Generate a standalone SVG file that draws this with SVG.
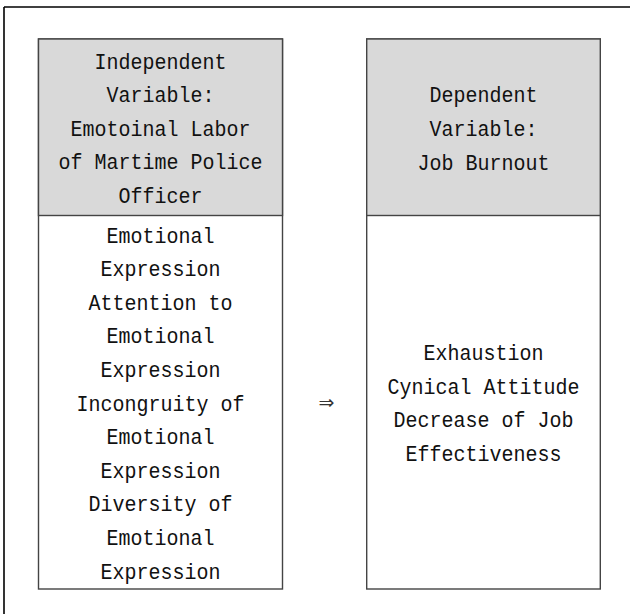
<svg xmlns="http://www.w3.org/2000/svg" width="630" height="614" viewBox="0 0 630 614">
<style>
.frame{stroke:#000;stroke-width:1.6;fill:none}
.box{fill:#fff;stroke:#444;stroke-width:1.4}
.head{fill:#d9d9d9;stroke:#444;stroke-width:1.4}
.t{font-family:"Liberation Mono","DejaVu Sans Mono",monospace;font-size:20px;fill:#111;text-anchor:middle}
.arr{font-family:"DejaVu Sans",sans-serif;font-size:19px;fill:#333;text-anchor:middle}
</style>
<rect width="630" height="614" fill="#fff"/>
<g id="frame">
<line class="frame" x1="4" y1="7" x2="630" y2="7"/>
<line class="frame" x1="4" y1="7" x2="4" y2="614"/>
</g>
<g id="independent">
<rect class="box" x="38.5" y="39" width="244" height="550"/>
<rect class="head" x="38.5" y="39" width="244" height="176.5"/>
<text class="t" transform="matrix(1,0,0,1.1,160.5,68.5)">Independent</text>
<text class="t" transform="matrix(1,0,0,1.1,160.5,102)">Variable:</text>
<text class="t" transform="matrix(1,0,0,1.1,160.5,135.5)">Emotoinal Labor</text>
<text class="t" transform="matrix(1,0,0,1.1,160.5,169)">of Martime Police</text>
<text class="t" transform="matrix(1,0,0,1.1,160.5,202.5)">Officer</text>
<text class="t" transform="matrix(1,0,0,1.1,160.5,242.5)">Emotional</text>
<text class="t" transform="matrix(1,0,0,1.1,160.5,276.1)">Expression</text>
<text class="t" transform="matrix(1,0,0,1.1,160.5,309.7)">Attention to</text>
<text class="t" transform="matrix(1,0,0,1.1,160.5,343.3)">Emotional</text>
<text class="t" transform="matrix(1,0,0,1.1,160.5,376.9)">Expression</text>
<text class="t" transform="matrix(1,0,0,1.1,160.5,410.5)">Incongruity of</text>
<text class="t" transform="matrix(1,0,0,1.1,160.5,444.1)">Emotional</text>
<text class="t" transform="matrix(1,0,0,1.1,160.5,477.7)">Expression</text>
<text class="t" transform="matrix(1,0,0,1.1,160.5,511.3)">Diversity of</text>
<text class="t" transform="matrix(1,0,0,1.1,160.5,544.9)">Emotional</text>
<text class="t" transform="matrix(1,0,0,1.1,160.5,578.5)">Expression</text>
</g>
<g id="dependent">
<rect class="box" x="366.7" y="39" width="233.6" height="550"/>
<rect class="head" x="366.7" y="39" width="233.6" height="176.5"/>
<text class="t" transform="matrix(1,0,0,1.1,483.5,102)">Dependent</text>
<text class="t" transform="matrix(1,0,0,1.1,483.5,135.8)">Variable:</text>
<text class="t" transform="matrix(1,0,0,1.1,483.5,169.5)">Job Burnout</text>
<text class="t" transform="matrix(1,0,0,1.1,483.5,360)">Exhaustion</text>
<text class="t" transform="matrix(1,0,0,1.1,483.5,393.5)">Cynical Attitude</text>
<text class="t" transform="matrix(1,0,0,1.1,483.5,427)">Decrease of Job</text>
<text class="t" transform="matrix(1,0,0,1.1,483.5,460.5)">Effectiveness</text>
</g>
<g id="connectors">
<text class="arr" x="326.5" y="409">⇒</text>
</g>
</svg>
